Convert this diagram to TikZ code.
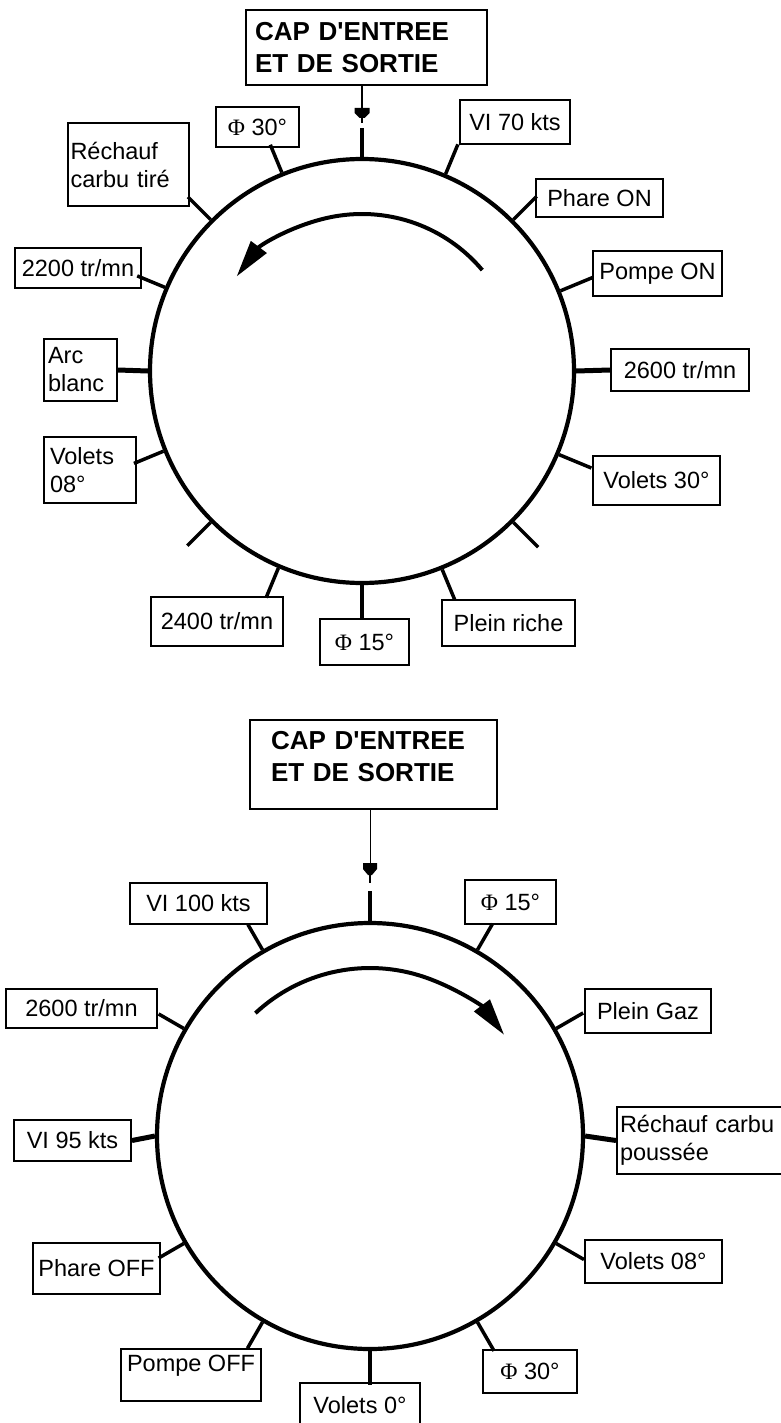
\documentclass[tikz,border=0pt]{standalone}
\usepackage{fontspec}
\setmainfont{Liberation Sans}
\newfontfamily\phifont{Liberation Serif}
\usetikzlibrary{arrows.meta,calc}
\newcommand\PHI{{\phifont Φ}}
\newcommand\lbox[7][]{\node[lblbox,minimum width={#5-#3},minimum height={#6-#4},#1] (#2) at ({(#3+#5)/2},{-(#4+#6)/2}) {#7};}
\begin{document}
\begin{tikzpicture}[x=1pt,y=1pt,
  lblbox/.style={draw,line width=2pt,inner sep=0pt,font=\fontsize{23.5}{28}\selectfont},
  capfont/.style={font=\bfseries\fontsize{26}{32}\selectfont},
  ring/.style={circle,draw,line width=4.2pt,inner sep=0pt},
  tick/.style={line width=3.5pt},
  thicktick/.style={line width=5pt},
  turn/.style={line width=4pt,-{Triangle[length=37pt,width=19pt]}},
  marker/.style={fill=black}]
\useasboundingbox (0,0) rectangle (781,-1423);
\fill[white] (0,0) rectangle (781,-1423);
\clip (0,0) rectangle (781,-1423);

% ---------------- top diagram ----------------
\node[ring,minimum size=424pt] (c1) at (362,-371) {};
\lbox[capfont,align=left,text width=223pt,inner xsep=9pt]{cap1}{246}{10}{487}{85}{CAP D\textquotesingle ENTREE\\ET DE SORTIE}
\lbox{phiA}{216}{107}{299}{147}{\PHI\ 30°}
\lbox{viA}{460}{100}{570}{144}{VI 70 kts}
\lbox[align=left,text width=116pt,inner xsep=2.5pt]{rechA}{68}{123}{189}{206}{Réchauf\\carbu tiré}
\lbox{phareA}{536}{179}{663}{217}{Phare ON}
\lbox{trA}{15}{248}{141}{288}{2200 tr/mn}
\lbox{pompeA}{593}{251}{722}{296}{Pompe ON}
\lbox[align=left,text width=65pt,inner xsep=4pt]{arcA}{44}{339}{117}{401}{Arc\\blanc}
\lbox{trB}{611}{349}{749}{391}{2600 tr/mn}
\lbox[align=left,text width=80pt,inner xsep=6pt]{volA}{44}{437}{136}{503}{Volets\\08°}
\lbox{volB}{593}{456}{720}{505}{Volets 30°}
\lbox{trC}{151}{597}{283}{646}{2400 tr/mn}
\lbox{phiB}{320}{619}{409}{665}{\PHI\ 15°}
\lbox{richA}{442}{600}{575}{646}{Plein riche}

\foreach \a/\l in {90/29,112.5/30,67.5/32,135/32,45/33,157.5/30,22.5/35,202.5/32,337.5/35,225/33,315/35,247.5/32,270/33,292.5/33}
  \draw[tick] (c1.\a) -- ++(\a:\l);
\draw[thicktick] (c1.180) -- (arcA.east);
\draw[thicktick] (c1.0) -- (trB.west);

\coordinate (m1) at (362,-108);
\draw[line width=2pt] (cap1.south -| m1) -- (m1);
\fill[marker] (m1) -- ++(-7.5,0) -- ++(0,-5) -- ++(5,-5) -- ++(5,0) -- ++(5,5) -- ++(0,5) -- cycle;
\draw[line width=2pt] ($(m1)+(0,-9)$) -- ++(0,-6);

\draw[turn] (c1.center) ++(40:157) arc[start angle=40,end angle=143,radius=157];

% ---------------- bottom diagram ----------------
\node[ring,minimum size=426pt] (c2) at (370,-1136) {};
\lbox[capfont,align=left,text width=205pt,inner xsep=21pt,text depth=48pt]{cap2}{250}{720}{497}{809}{CAP D\textquotesingle ENTREE\\ET DE SORTIE}
\lbox{viB}{130}{883}{267}{924}{VI 100 kts}
\lbox{phiC}{465}{880}{556}{924}{\PHI\ 15°}
\lbox{trD}{6}{989}{157}{1028}{2600 tr/mn}
\lbox{gazA}{585}{989}{711}{1033}{Plein Gaz}
\lbox{viC}{14}{1120}{131}{1161}{VI 95 kts}
\lbox[align=left,text width=167pt,inner xsep=3pt]{rechB}{617}{1107}{790}{1174}{Réchauf carbu\\poussée}
\lbox{phareB}{33}{1243}{160}{1294}{Phare OFF}
\lbox{volC}{585}{1240}{722}{1283}{Volets 08°}
\lbox[text height=17pt,text depth=25pt]{pompeB}{121}{1349}{261}{1401}{Pompe OFF}
\lbox{phiD}{483}{1350}{577}{1393}{\PHI\ 30°}
\lbox{volD}{300}{1383}{420}{1427}{Volets 0°}

\foreach \a/\l in {90/30,120/29,60/30,150/29,30/31,210/29,330/32,240/30,300/33,270/34}
  \draw[tick] (c2.\a) -- ++(\a:\l);
\draw[thicktick] (c2.180) -- (viC.east);
\draw[thicktick] (c2.0) -- (rechB.west);

\coordinate (m2) at (370,-863);
\draw[line width=1pt] (cap2.south -| m2) -- (m2);
\fill[marker] (m2) -- ++(-7,0) -- ++(0,-6) -- ++(5,-6) -- ++(4,0) -- ++(5,6) -- ++(0,6) -- cycle;
\draw[line width=1.5pt] ($(m2)+(0,-11)$) -- ++(0,-9);

\draw[turn] (c2.center) ++(133:168) arc[start angle=133,end angle=37,radius=168];
\end{tikzpicture}
\end{document}
